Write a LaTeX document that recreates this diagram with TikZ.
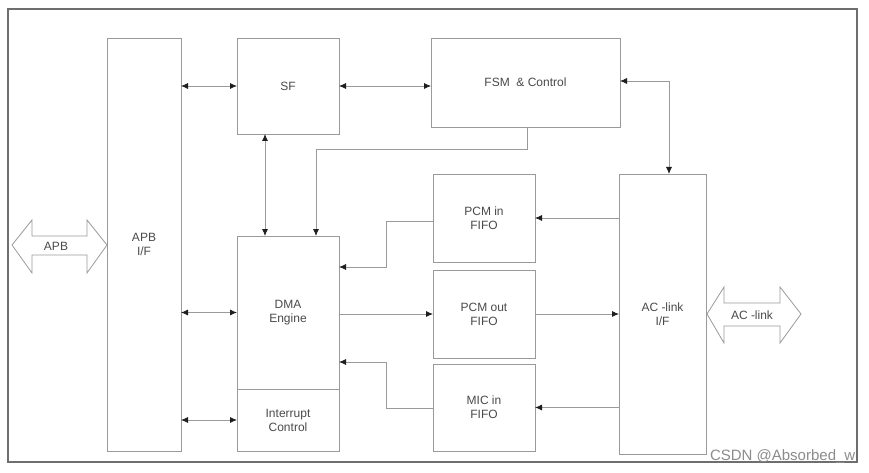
\documentclass[tikz,border=0pt]{standalone}
\usepackage{fontspec}
\setmainfont{Liberation Sans}
\usetikzlibrary{arrows.meta}
\definecolor{linegray}{HTML}{9A9A9A}
\definecolor{framegray}{HTML}{6E6E6E}
\definecolor{txtgray}{HTML}{4A4A4A}
\definecolor{tipgray}{HTML}{1E1E1E}
\tikzset{
  blk/.style={draw=linegray, line width=0.9pt, fill=white, inner sep=0pt, outer sep=0pt,
    align=center, text=txtgray, font=\fontsize{12}{14}\selectfont},
  conn/.style={draw=linegray, line width=0.8pt},
  tipA/.style={conn, -{Latex[length=7pt,width=6pt,color=tipgray]}},
  tipAB/.style={conn, {Latex[length=7pt,width=6pt,color=tipgray]}-{Latex[length=7pt,width=6pt,color=tipgray]}},
  hollow/.style={draw=linegray, line width=0.8pt, fill=white},
  lbl/.style={text=txtgray, font=\fontsize{12}{14}\selectfont, inner sep=0pt},
}
\begin{document}
\begin{tikzpicture}[x=1pt,y=-1pt]
\useasboundingbox (0,0) rectangle (869,473);
\fill[white] (0,0) rectangle (869,473);
\draw[framegray, line width=1.6pt] (8,9) rectangle (857,462);

% blocks
\node[blk, minimum width=74pt, minimum height=413pt] (apb) at (144,244.5) {APB\\I/F};
\node[blk, minimum width=102pt, minimum height=96pt] (sf) at (288,86) {SF};
\node[blk, minimum width=189pt, minimum height=89pt] (fsm) at (525.5,82.5) {FSM\ \ \&\ Control};
\node[blk, minimum width=102pt, minimum height=88pt] (pcmin) at (484,218) {PCM in\\FIFO};
\node[blk, minimum width=102pt, minimum height=88pt] (pcmout) at (484,314) {PCM out\\FIFO};
\node[blk, minimum width=102pt, minimum height=87pt] (micin) at (484,407.5) {MIC in\\FIFO};
\node[blk, minimum width=87pt, minimum height=280pt] (aclink) at (662.5,314) {AC -link\\I/F};
\node[blk, minimum width=102pt, minimum height=153pt] (dma) at (288,312.5) {DMA\\Engine};
\node[blk, minimum width=102pt, minimum height=62pt] (intc) at (288,420) {Interrupt\\Control};

% connectors
\draw[tipAB] (apb.east |- sf.west) -- (sf.west);
\draw[tipAB] (sf.east) -- (sf.east -| fsm.west);
\draw[tipAB] ([yshift=1.5pt]fsm.east) -| ([xshift=50pt]aclink.north west);
\draw[tipAB] ([xshift=28pt]sf.south west) -- ([xshift=28pt]dma.north west);
\draw[tipA] ([xshift=96pt]fsm.south west) -- ++(0,22) -| ([xshift=79pt]dma.north west);
\draw[tipA] ([yshift=-3pt]pcmin.west) -- ++(-47,0) |- ([yshift=45.5pt]dma.east);
\draw[tipA] (dma.east |- pcmout.west) -- (pcmout.west);
\draw[tipA] ([yshift=-0.5pt]micin.west) -- ++(-47,0) |- ([yshift=-49.5pt]dma.east);
\draw[tipA] (aclink.west |- pcmin.east) -- (pcmin.east);
\draw[tipA] (pcmout.east) -- (pcmout.east -| aclink.west);
\draw[tipA] (aclink.west |- micin.east) -- (micin.east);
\draw[tipAB] (apb.east |- dma.west) -- (dma.west);
\draw[tipAB] (apb.east |- intc.west) -- (intc.west);

% hollow bus arrows
\draw[hollow] (12,245) -- (32,220) -- (32,236) -- (87,236) -- (87,220) -- (107,245)
  -- (87,273) -- (87,255) -- (32,255) -- (32,273) -- cycle;
\node[lbl] (apblbl) at (56,246) {APB};
\draw[hollow] (707,314) -- (724,287) -- (724,303) -- (780,303) -- (780,287) -- (801,314)
  -- (780,343) -- (780,326) -- (724,326) -- (724,343) -- cycle;
\node[lbl] (aclbl) at (752,315) {AC -link};

% watermark
\node[anchor=base east, inner sep=0pt, text=black!45, font=\fontsize{15}{17}\selectfont] (wm) at (855.5,460) {CSDN @Absorbed\_w};
\end{tikzpicture}
\end{document}
